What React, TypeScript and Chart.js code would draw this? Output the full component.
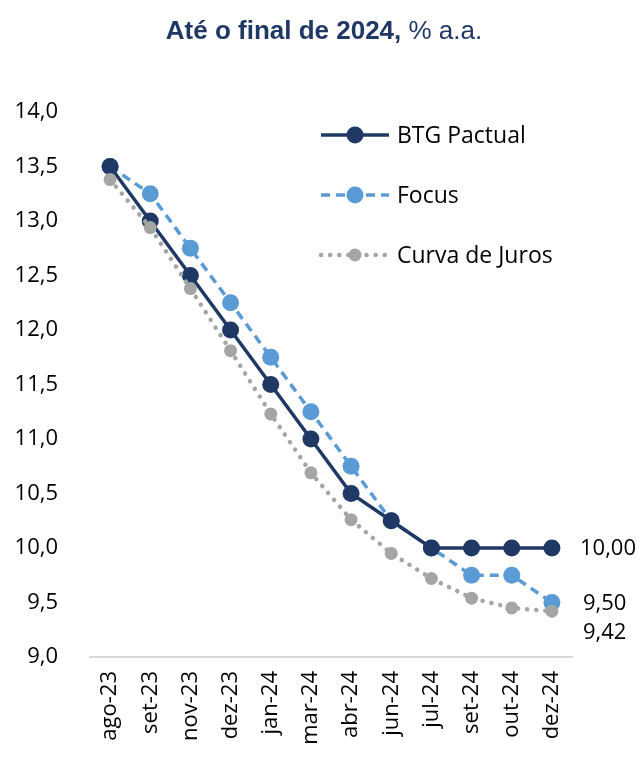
import React, { useEffect, useRef } from "react";
import { Chart, registerables } from "chart.js";

Chart.register(...registerables);

const categories = ["ago-23", "set-23", "nov-23", "dez-23", "jan-24", "mar-24", "abr-24", "jun-24", "jul-24", "set-24", "out-24", "dez-24"];
const btgPactual = [13.5, 13.0, 12.5, 12.0, 11.5, 11.0, 10.5, 10.25, 10.0, 10.0, 10.0, 10.0];
const focus = [13.5, 13.25, 12.75, 12.25, 11.75, 11.25, 10.75, 10.25, 10.0, 9.75, 9.75, 9.5];
const curvaDeJuros = [13.38, 12.94, 12.38, 11.81, 11.23, 10.69, 10.26, 9.95, 9.72, 9.54, 9.45, 9.42];
const seriesNames = ["BTG Pactual", "Focus", "Curva de Juros"];

const NAVY = "#1F3864";
const LIGHT_BLUE = "#5B9BD5";
const GRAY = "#A5A5A5";
const FONT = "'Open Sans', 'Noto Sans', sans-serif";
const TITLE_FONT = "Arial, 'Liberation Sans', sans-serif";

const fmt = (v: number, d: number) => v.toFixed(d).replace(".", ",");

const overlayPlugin = {
  id: "overlay",
  afterDraw(chart: any) {
    const ctx = chart.ctx as CanvasRenderingContext2D;
    const area = chart.chartArea;
    const ys = chart.scales.y;

    // title: bold lead followed by the unit in regular weight
    ctx.save();
    ctx.textBaseline = "middle";
    const boldPart = "Até o final de 2024,";
    const normalPart = " % a.a.";
    ctx.font = `bold 26px ${TITLE_FONT}`;
    const w1 = ctx.measureText(boldPart).width;
    ctx.font = `26px ${TITLE_FONT}`;
    const w2 = ctx.measureText(normalPart).width;
    const startX = 324 - (w1 + w2) / 2;
    ctx.fillStyle = NAVY;
    ctx.textAlign = "left";
    ctx.font = `bold 26px ${TITLE_FONT}`;
    ctx.fillText(boldPart, startX, 32);
    ctx.font = `26px ${TITLE_FONT}`;
    ctx.fillText(normalPart, startX + w1, 32);
    ctx.restore();

    // legend
    const items = [
      { color: NAVY, dash: [] as number[], width: 3.5, radius: 8.5, cap: "butt" as CanvasLineCap },
      { color: LIGHT_BLUE, dash: [9, 6], width: 3.5, radius: 8.5, cap: "butt" as CanvasLineCap },
      { color: GRAY, dash: [0.1, 9], width: 4.5, radius: 6.5, cap: "round" as CanvasLineCap },
    ];
    const legendY = [135, 195, 255];
    items.forEach((it, i) => {
      const y = legendY[i];
      ctx.save();
      ctx.strokeStyle = it.color;
      ctx.lineWidth = it.width;
      ctx.setLineDash(it.dash);
      ctx.lineCap = it.cap;
      ctx.beginPath();
      ctx.moveTo(321, y);
      ctx.lineTo(389, y);
      ctx.stroke();
      ctx.setLineDash([]);
      ctx.fillStyle = it.color;
      ctx.beginPath();
      ctx.arc(355, y, it.radius, 0, Math.PI * 2);
      ctx.fill();
      ctx.fillStyle = "#000";
      ctx.font = `23px ${FONT}`;
      ctx.textAlign = "left";
      ctx.textBaseline = "middle";
      ctx.fillText(seriesNames[i], 397, y + 1);
      ctx.restore();
    });

    // end-of-series values
    const last = categories.length - 1;
    const lx = area.right + 8;
    ctx.save();
    ctx.fillStyle = "#000";
    ctx.font = `22px ${FONT}`;
    ctx.textAlign = "left";
    ctx.textBaseline = "middle";
    ctx.fillText(fmt(btgPactual[last], 2), lx, ys.getPixelForValue(btgPactual[last]) + 1);
    ctx.fillText(fmt(focus[last], 2), lx + 3, ys.getPixelForValue(focus[last]) + 1);
    ctx.fillText(fmt(curvaDeJuros[last], 2), lx + 3, ys.getPixelForValue(curvaDeJuros[last]) + 22);
    ctx.restore();
  },
};

export default function App() {
  const ref = useRef<HTMLCanvasElement | null>(null);

  useEffect(() => {
    if (!ref.current) return;
    const chart = new Chart(ref.current, {
      type: "line",
      data: {
        labels: categories,
        datasets: [
          {
            label: seriesNames[2],
            data: curvaDeJuros,
            borderColor: GRAY,
            backgroundColor: GRAY,
            borderWidth: 4.5,
            borderDash: [0.1, 9],
            borderCapStyle: "round",
            pointRadius: 6.5,
            pointBorderWidth: 0,
            pointBackgroundColor: GRAY,
            tension: 0,
          },
          {
            label: seriesNames[0],
            data: btgPactual,
            borderColor: NAVY,
            backgroundColor: NAVY,
            borderWidth: 3.5,
            pointRadius: 8.5,
            pointBorderWidth: 0,
            pointBackgroundColor: NAVY,
            tension: 0,
          },
          {
            label: seriesNames[1],
            data: focus,
            borderColor: LIGHT_BLUE,
            backgroundColor: LIGHT_BLUE,
            borderWidth: 3.5,
            borderDash: [9, 6],
            pointRadius: 8.5,
            pointBorderWidth: 0,
            pointBackgroundColor: LIGHT_BLUE,
            tension: 0,
          },
        ],
      },
      options: {
        animation: false,
        responsive: false,
        layout: { padding: { left: 0, right: 69, top: 112, bottom: 0 } },
        plugins: {
          legend: { display: false },
          title: { display: false },
          tooltip: { enabled: false },
        },
        scales: {
          x: {
            offset: true,
            grid: { display: false, drawTicks: false, offset: true },
            border: { display: true, color: "#D9D9D9", width: 2 },
            ticks: {
              color: "#000",
              font: { family: FONT, size: 22 },
              minRotation: 90,
              maxRotation: 90,
              padding: 14,
              autoSkip: false,
            },
            afterFit: (s: any) => {
              s.height = 101;
            },
          },
          y: {
            min: 9,
            max: 14,
            grid: { display: false, drawTicks: false },
            border: { display: false },
            ticks: {
              stepSize: 0.5,
              color: "#000",
              font: { family: FONT, size: 22 },
              padding: 32,
              callback: (v: any) => fmt(Number(v), 1),
            },
            afterFit: (s: any) => {
              s.width = 90;
            },
          },
        },
      },
      plugins: [overlayPlugin],
    });
    return () => chart.destroy();
  }, []);

  return (
    <div style={{ position: "absolute", left: 0, top: 0, width: 641, height: 758, background: "#fff" }}>
      <canvas ref={ref} width={641} height={758} />
    </div>
  );
}
